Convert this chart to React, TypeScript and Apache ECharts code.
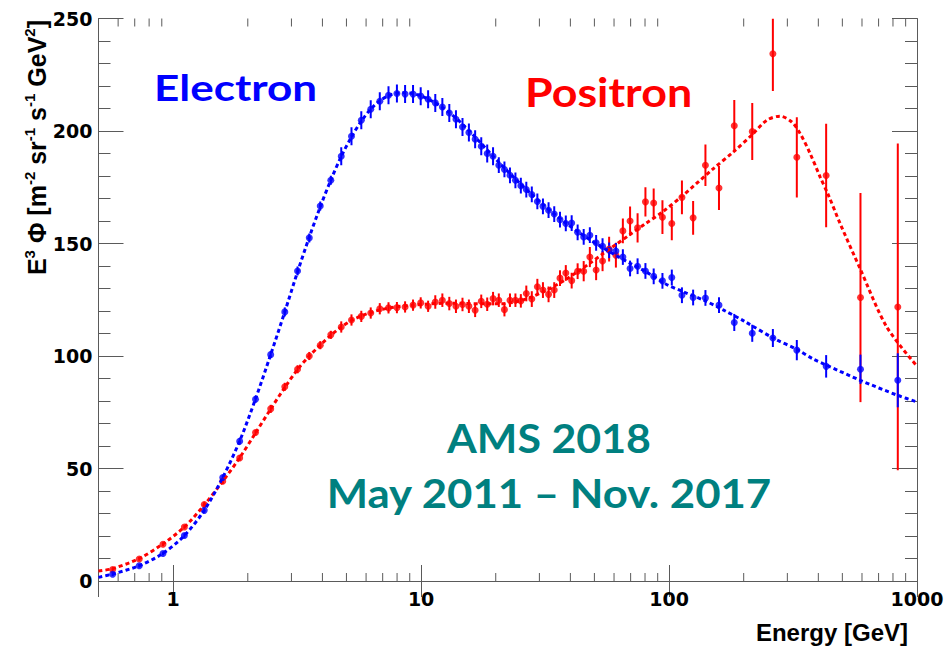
import React, { useEffect, useRef } from 'react';
import * as echarts from 'echarts';

// Bin centres [GeV]
const energy = [
  0.57, 0.73, 0.91, 1.11, 1.335, 1.585, 1.855, 2.149, 2.474, 2.82,
  3.175, 3.54, 3.92, 4.325, 4.764, 5.239, 5.739, 6.264, 6.814, 7.389,
  7.989, 8.619, 9.279, 9.964, 10.674, 11.409, 12.183, 12.994, 13.824, 14.688,
  15.588, 16.518, 17.483, 18.478, 19.508, 20.578, 21.683, 22.828, 24.013, 25.252,
  26.566, 27.956, 29.435, 31.005, 32.664, 34.433, 36.322, 38.336, 40.485, 42.788,
  45.267, 47.93, 50.808, 53.93, 57.327, 61.045, 65.125, 69.635, 74.665, 80.308,
  86.707, 94.053, 102.59, 112.71, 125.06, 140.2, 159.0, 183.27, 216.55, 262.27,
  327.57, 430.12, 591.61, 836.66,
];

// E^3 x flux, electrons
const electronFlux = [
  3.0, 6.8, 12.2, 20.2, 31.4, 46.0, 62.1, 80.8, 100.6, 119.6,
  137.8, 152.5, 166.7, 178.1, 188.8, 197.7, 204.8, 209.7, 213.2, 215.9,
  216.7, 216.4, 216.4, 215.5, 214.1, 212.5, 210.7, 208.0, 205.2, 201.8,
  199.3, 196.3, 193.2, 190.0, 188.8, 184.8, 182.9, 180.3, 178.1, 175.7,
  174.0, 171.8, 168.7, 166.5, 164.8, 163.1, 160.6, 158.9, 159.1, 155.0,
  152.9, 153.7, 150.3, 148.8, 147.0, 146.7, 144.0, 138.9, 139.9, 137.8,
  135.4, 133.4, 134.9, 127.0, 126.0, 125.8, 122.6, 114.9, 110.1, 108.0,
  102.6, 95.4, 94.1, 89.2,
];
const electronErr = [
  0.8, 0.8, 0.8, 1.0, 1.0, 1.0, 1.5, 1.5, 1.5, 2.0,
  2.0, 2.0, 2.0, 2.0, 4.0, 4.0, 4.0, 4.0, 4.0, 4.0,
  4.0, 4.0, 4.0, 4.0, 4.0, 4.0, 4.0, 4.0, 4.0, 4.0,
  4.0, 4.0, 4.0, 4.0, 4.0, 3.5, 3.5, 3.5, 3.5, 3.5,
  3.5, 3.5, 3.5, 3.5, 3.5, 3.5, 3.5, 3.5, 3.5, 3.5,
  3.5, 3.5, 3.5, 3.5, 3.5, 3.5, 3.5, 3.5, 3.5, 3.5,
  3.5, 3.5, 3.5, 3.5, 3.5, 3.5, 3.5, 3.8, 3.8, 4.0,
  4.5, 5.0, 6.5, 12.0,
];

// E^3 x flux, positrons
const positronFlux = [
  5.1, 9.8, 16.3, 24.0, 34.0, 44.3, 54.7, 66.0, 76.5, 86.3,
  94.1, 100.0, 104.8, 109.4, 112.9, 116.0, 117.6, 119.1, 121.0, 121.4,
  121.5, 121.8, 122.6, 123.6, 122.1, 124.0, 124.8, 123.3, 122.1, 122.9,
  122.1, 120.3, 124.3, 123.0, 125.5, 124.8, 120.6, 124.8, 124.8, 124.5,
  127.8, 125.3, 130.8, 129.3, 127.4, 129.3, 134.6, 136.9, 133.5, 137.7,
  137.7, 144.0, 138.2, 142.2, 147.5, 144.8, 155.6, 160.0, 157.0, 168.5,
  168.0, 161.7, 158.9, 170.5, 161.4, 184.8, 174.7, 202.3, 199.8, 234.3,
  188.3, 180.2, 126.0, 121.8,
];
const positronErr = [
  0.8, 0.8, 0.8, 0.8, 1.2, 1.2, 1.2, 1.2, 1.8, 1.8,
  1.8, 1.8, 1.8, 1.8, 2.5, 2.5, 2.5, 2.5, 2.5, 2.5,
  2.5, 2.5, 2.5, 2.5, 2.5, 3.0, 3.0, 3.0, 3.0, 3.0,
  3.0, 3.0, 3.0, 3.0, 3.0, 3.0, 3.0, 3.0, 3.0, 3.0,
  3.5, 3.5, 3.5, 3.5, 3.5, 3.5, 3.5, 3.5, 3.5, 3.5,
  4.5, 4.5, 4.5, 4.5, 5.5, 5.5, 5.5, 6.5, 6.5, 6.5,
  6.5, 7.5, 7.5, 7.5, 7.5, 9.2, 9.8, 11.5, 12.7, 16.5,
  17.8, 23.0, 46.5, 72.6,
];

// Model curves
const electronModelE = [
  0.5, 0.57, 0.73, 0.91, 1.11, 1.335, 1.585, 1.855, 2.15, 2.47,
  2.82, 3.175, 3.54, 3.92, 4.325, 4.76, 5.24, 5.74, 6.26, 6.81,
  7.39, 8.0, 8.62, 9.28, 9.96, 10.67, 11.41, 12.18, 12.99, 13.82,
  14.69, 15.59, 16.52, 17.48, 18.48, 19.51, 20.58, 21.68, 22.83, 24.01,
  25.25, 27.96, 31.0, 34.43, 38.34, 42.79, 47.93, 53.93, 61.04, 69.63,
  80.3, 97, 112.7, 140, 166, 200, 266, 327, 382, 430,
  590, 836, 1000,
];
const electronModelFlux = [
  1.6, 3.1, 6.8, 12.3, 20.2, 31.4, 46.0, 62.2, 81.0, 100.4,
  119.6, 137.4, 152.8, 166.3, 178.2, 188.6, 197.4, 204.4, 209.7, 213.4,
  215.7, 216.8, 217.0, 216.6, 215.6, 214.2, 212.5, 210.5, 208.2, 205.7,
  203.0, 200.2, 197.3, 194.4, 191.6, 188.8, 186.1, 183.6, 181.1, 178.7,
  176.3, 171.8, 167.3, 163.1, 159.1, 155.3, 151.7, 148.2, 144.7, 141.2,
  137.6, 132.0, 128.8, 124.5, 120.4, 115.6, 107.7, 103.0, 98.6, 96.0,
  89.2, 82.5, 79.6,
];
const positronModelE = [
  0.5, 0.57, 0.73, 0.91, 1.11, 1.335, 1.585, 1.855, 2.15, 2.47,
  2.82, 3.175, 3.54, 3.92, 4.325, 4.76, 5.24, 5.74, 6.26, 6.81,
  7.39, 8.0, 9.28, 10.67, 12.2, 14.7, 17.5, 20.6, 24, 28,
  31, 34.4, 38.3, 42.8, 47.9, 53.9, 61, 69.6, 80.3, 94,
  112.7, 151, 181.8, 218.9, 247.9, 280.4, 312.6, 337.7, 370.6, 406.6,
  439.2, 489.5, 589, 755, 1000,
];
const positronModelFlux = [
  4.4, 5.5, 10.0, 16.5, 24.0, 33.8, 44.3, 54.8, 65.8, 76.3,
  86.0, 94.0, 100.0, 104.8, 109.2, 112.8, 115.8, 117.8, 119.3, 120.5,
  121.3, 121.9, 122.6, 123.1, 123.4, 123.4, 123.2, 123.2, 124.0, 126.3,
  128.5, 131.0, 134.0, 137.5, 141.2, 145.3, 149.5, 154.0, 158.8, 164.0,
  171.0, 183.3, 190.7, 198.9, 204.8, 206.6, 204.0, 198.9, 190.0, 179.6,
  171.5, 158.9, 138.9, 112.9, 95.5,
];

// Axes
const xMin = 0.5;
const xMax = 1000;
const xMajorTicks = [1, 10, 100, 1000];
const xMinorTicks = [
  0.6, 0.7, 0.8, 0.9,
  2, 3, 4, 5, 6, 7, 8, 9,
  20, 30, 40, 50, 60, 70, 80, 90,
  200, 300, 400, 500, 600, 700, 800, 900,
];
const yMin = 0;
const yMax = 250;
const yStep = 50;

const BLUE = '#0000ff';
const RED = '#ff0000';
const TEAL = '#008080';
const FRAME = '#5a5a5a';
const LABEL_FONT = 'DejaVu Sans';
const TITLE_FONT = 'Liberation Sans';
const NOTE_FONT = 'Lato';

function pairs(xs: number[], ys: number[]) {
  return xs.map((x, i) => [x, ys[i]]);
}

function errorBarSeries(ys: number[], errs: number[], color: string) {
  return {
    type: 'custom',
    silent: true,
    clip: true,
    data: energy.map((x, i) => [x, ys[i], errs[i]]),
    encode: { x: 0, y: 1 },
    renderItem: (_p: any, api: any) => {
      const x = api.value(0);
      const y = api.value(1);
      const e = api.value(2);
      const lo = api.coord([x, Math.max(y - e, yMin)]);
      const hi = api.coord([x, Math.min(y + e, yMax)]);
      return {
        type: 'line',
        shape: { x1: lo[0], y1: lo[1], x2: hi[0], y2: hi[1] },
        style: { stroke: color, lineWidth: 2 },
      };
    },
  };
}

function note(text: string, x: number, y: number, color: string, size: number, align: string, scaleX: number) {
  return {
    type: 'text',
    x,
    y,
    scaleX,
    style: {
      text,
      fill: color,
      fontFamily: NOTE_FONT,
      fontWeight: 'bold',
      fontSize: size,
      align,
      verticalAlign: 'middle',
    },
  };
}

export default function App() {
  const ref = useRef<HTMLDivElement>(null);

  useEffect(() => {
    if (!ref.current) return;
    const chart = echarts.init(ref.current, null, { renderer: 'svg' });

    const isMajor = (v: number) => {
      const r = Math.round(v);
      return xMajorTicks.includes(r) && Math.abs(v - r) < 1e-6 * Math.max(r, 1);
    };

    const xAxisBase = {
      type: 'log',
      logBase: 10,
      min: xMin,
      max: xMax,
      splitLine: { show: false },
      axisLine: { show: true, lineStyle: { color: FRAME, width: 1 } },
      axisTick: { show: true, inside: true, length: 16, lineStyle: { color: FRAME, width: 1 } },
    };
    const yAxisBase = {
      type: 'value',
      min: yMin,
      max: yMax,
      interval: yStep,
      splitLine: { show: false },
      axisLine: { show: true, lineStyle: { color: FRAME, width: 1 } },
      axisTick: { show: true, inside: true, length: 25, lineStyle: { color: FRAME, width: 1 } },
      minorTick: { show: true, splitNumber: 5, length: 12, lineStyle: { color: FRAME, width: 1 } },
    };

    const option: any = {
      animation: false,
      backgroundColor: '#ffffff',
      grid: { left: 98.5, right: 34, top: 18.5, bottom: 68, containLabel: false },
      xAxis: [
        {
          ...xAxisBase,
          position: 'bottom',
          axisLabel: {
            show: true,
            margin: 8,
            color: '#000',
            fontFamily: LABEL_FONT,
            fontWeight: 'bold',
            fontSize: 19,
            formatter: (v: number) => (isMajor(v) ? String(Math.round(v)) : ''),
          },
        },
        { ...xAxisBase, position: 'top', axisLabel: { show: false } },
      ],
      yAxis: [
        {
          ...yAxisBase,
          position: 'left',
          axisLabel: {
            show: true,
            margin: 6,
            color: '#000',
            fontFamily: LABEL_FONT,
            fontWeight: 'bold',
            fontSize: 19,
          },
        },
        { ...yAxisBase, position: 'right', axisLabel: { show: false } },
      ],
      series: [
        // minor decade ticks on the bottom and top frame edges
        {
          type: 'custom',
          silent: true,
          clip: false,
          data: xMinorTicks.map((v) => [v, yMin]),
          encode: { x: 0, y: 1 },
          renderItem: (_p: any, api: any) => {
            const v = api.value(0);
            const b = api.coord([v, yMin]);
            const t = api.coord([v, yMax]);
            const st = { stroke: FRAME, lineWidth: 1 };
            return {
              type: 'group',
              children: [
                { type: 'line', shape: { x1: b[0], y1: b[1], x2: b[0], y2: b[1] - 8 }, style: st },
                { type: 'line', shape: { x1: t[0], y1: t[1], x2: t[0], y2: t[1] + 8 }, style: st },
              ],
            };
          },
        },
        {
          type: 'line',
          name: 'Positron model',
          data: pairs(positronModelE, positronModelFlux),
          showSymbol: false,
          smooth: 0.3,
          silent: true,
          lineStyle: { color: RED, width: 3, type: [4, 3] },
        },
        {
          type: 'line',
          name: 'Electron model',
          data: pairs(electronModelE, electronModelFlux),
          showSymbol: false,
          smooth: 0.3,
          silent: true,
          lineStyle: { color: BLUE, width: 3, type: [4, 3] },
        },
        errorBarSeries(positronFlux, positronErr, RED),
        {
          type: 'scatter',
          name: 'Positron',
          data: pairs(energy, positronFlux),
          symbol: 'circle',
          symbolSize: 7,
          itemStyle: { color: RED },
          silent: true,
        },
        errorBarSeries(electronFlux, electronErr, BLUE),
        {
          type: 'scatter',
          name: 'Electron',
          data: pairs(energy, electronFlux),
          symbol: 'circle',
          symbolSize: 7,
          itemStyle: { color: BLUE },
          silent: true,
        },
      ],
      graphic: [
        note('Electron', 154, 87, BLUE, 37, 'left', 1.19),
        note('Positron', 525, 91, RED, 40, 'left', 1.12),
        note('AMS 2018', 549, 437, TEAL, 40.5, 'center', 1.06),
        note('May 2011 \u2013 Nov. 2017', 549, 492, TEAL, 40.5, 'center', 1.08),
        {
          type: 'text',
          x: 908,
          y: 632,
          style: {
            text: 'Energy [GeV]',
            fill: '#000',
            fontFamily: TITLE_FONT,
            fontWeight: 'bold',
            fontSize: 24,
            align: 'right',
            verticalAlign: 'middle',
          },
        },
        {
          type: 'text',
          x: 37,
          y: 20,
          rotation: Math.PI / 2,
          style: {
            text: '{m|E}{s|3}{m| \u03a6 [m}{s|-2}{m| sr}{s|-1}{m| s}{s|-1}{m| GeV}{s|2}{m|]}',
            align: 'right',
            verticalAlign: 'middle',
            rich: {
              m: {
                fontFamily: TITLE_FONT,
                fontWeight: 'bold',
                fontSize: 25,
                lineHeight: 31,
                fill: '#000',
              },
              s: {
                fontFamily: TITLE_FONT,
                fontWeight: 'bold',
                fontSize: 15,
                lineHeight: 15,
                verticalAlign: 'top',
                fill: '#000',
              },
            },
          },
        },
      ],
    };

    chart.setOption(option);
    return () => chart.dispose();
  }, []);

  return (
    <div
      ref={ref}
      style={{ position: 'fixed', left: 0, top: 0, width: 951, height: 649, background: '#fff' }}
    />
  );
}
